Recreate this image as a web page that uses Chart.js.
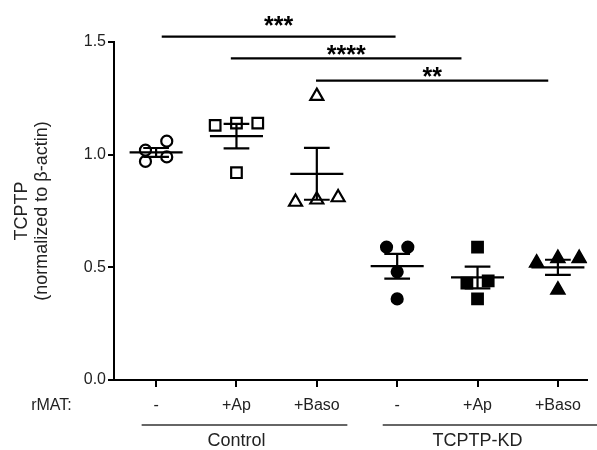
<!DOCTYPE html>
<html>
<head>
<meta charset="utf-8">
<script src="https://cdn.jsdelivr.net/npm/chart.js@4.4.1/dist/chart.umd.min.js"></script>
<style>
  html, body { margin: 0; padding: 0; background: #fff; }
</style>
</head>
<body>
<canvas id="myChart" width="597" height="450"></canvas>
<script>
// data
const conditions = ["-", "+Ap", "+Baso", "-", "+Ap", "+Baso"];
const groupNames = ["Control", "TCPTP-KD"];
const groupFrom = [-0.18, 2.82];
const groupTo = [2.38, 5.6];
const groupCenter = [1, 4];

const ctrlNone = [0.97, 1.02, 1.06, 0.99];
const ctrlAp = [1.13, 1.14, 1.14, 0.92];
const ctrlBaso = [1.26, 0.79, 0.81, 0.80];
const kdNone = [0.59, 0.59, 0.48, 0.36];
const kdAp = [0.59, 0.44, 0.43, 0.36];
const kdBaso = [0.54, 0.54, 0.52, 0.40];

const yTicks = [0, 0.5, 1.0, 1.5];

const sigLabels = ["***", "****", "**"];
const sigFrom = [0.07, 0.93, 1.99];
const sigTo = [2.98, 3.8, 4.88];
const sigLevel = [1.524, 1.427, 1.329];
const sigTextLevel = [1.59, 1.458, 1.364];

const FONT = "'Liberation Sans', Arial, Helvetica, sans-serif";
const TXT = "#222";

const series = [ctrlNone, ctrlAp, ctrlBaso, kdNone, kdAp, kdBaso];
const styles = ["circle", "rect", "triangle", "circle", "rect", "triangle"];
const radii = [5.5, 7.5, 7.5, 5.5, 7.5, 7.5];

// Prism-like scatter: values that fall in the same row get spread sideways
function swarm(values, center) {
    const ROW = 0.05, STEP = 0.265;
    const order = values.map((v, i) => i).sort((a, b) => values[b] - values[a]);
    const rows = [];
    order.forEach(i => {
        const last = rows[rows.length - 1];
        if (last && values[last[0]] - values[i] <= ROW) last.push(i);
        else rows.push([i]);
    });
    const out = new Array(values.length);
    rows.forEach(r => {
        r.sort((a, b) => values[a] - values[b]);
        r.forEach((idx, k) => {
            out[idx] = { x: center + (k - (r.length - 1) / 2) * STEP, y: values[idx] };
        });
    });
    return out;
}

function mean(a) { return a.reduce((s, v) => s + v, 0) / a.length; }
function sem(a) {
    const m = mean(a);
    const sd = Math.sqrt(a.reduce((s, v) => s + (v - m) * (v - m), 0) / (a.length - 1));
    return sd / Math.sqrt(a.length);
}

const datasets = series.map((vals, i) => ({
    label: conditions[i],
    data: swarm(vals, i),
    pointStyle: styles[i],
    pointRadius: radii[i],
    pointHoverRadius: radii[i],
    backgroundColor: i < 3 ? "#fff" : "#000",
    borderColor: "#000",
    pointBorderWidth: 2.2
}));

const annotations = {
    id: "annotations",
    afterDatasetsDraw(chart) {
        const ctx = chart.ctx, x = chart.scales.x, y = chart.scales.y;
        ctx.save();
        ctx.strokeStyle = "#000";
        ctx.lineWidth = 2.2;
        series.forEach((vals, i) => {
            const m = mean(vals), e = sem(vals);
            const ym = y.getPixelForValue(m);
            const yt = y.getPixelForValue(m + e);
            const yb = y.getPixelForValue(m - e);
            ctx.beginPath();
            ctx.moveTo(x.getPixelForValue(i - 0.33), ym);
            ctx.lineTo(x.getPixelForValue(i + 0.33), ym);
            ctx.moveTo(x.getPixelForValue(i), yt);
            ctx.lineTo(x.getPixelForValue(i), yb);
            ctx.moveTo(x.getPixelForValue(i - 0.16), yt);
            ctx.lineTo(x.getPixelForValue(i + 0.16), yt);
            ctx.moveTo(x.getPixelForValue(i - 0.16), yb);
            ctx.lineTo(x.getPixelForValue(i + 0.16), yb);
            ctx.stroke();
        });
        ctx.restore();
    },
    afterDraw(chart) {
        const ctx = chart.ctx, x = chart.scales.x, y = chart.scales.y;
        ctx.save();
        ctx.strokeStyle = "#000";
        ctx.fillStyle = "#000";
        ctx.lineWidth = 2.2;
        // significance bars
        sigLabels.forEach((lab, i) => {
            const py = y.getPixelForValue(sigLevel[i]);
            ctx.beginPath();
            ctx.moveTo(x.getPixelForValue(sigFrom[i]), py);
            ctx.lineTo(x.getPixelForValue(sigTo[i]), py);
            ctx.stroke();
            ctx.font = "bold 25px " + FONT;
            ctx.textAlign = "center";
            ctx.textBaseline = "middle";
            ctx.fillText(lab, x.getPixelForValue((sigFrom[i] + sigTo[i]) / 2), y.getPixelForValue(sigTextLevel[i]) + 5);
        });
        // group lines and names
        ctx.lineWidth = 1.5;
        ctx.strokeStyle = "#333";
        ctx.fillStyle = TXT;
        ctx.font = "18px " + FONT;
        groupNames.forEach((g, i) => {
            ctx.beginPath();
            ctx.moveTo(x.getPixelForValue(groupFrom[i]), 425);
            ctx.lineTo(x.getPixelForValue(groupTo[i]), 425);
            ctx.stroke();
            ctx.textAlign = "center";
            ctx.textBaseline = "middle";
            ctx.fillText(g, x.getPixelForValue(groupCenter[i]), 441);
        });
        ctx.font = "16px " + FONT;
        ctx.textAlign = "right";
        ctx.fillText("rMAT:", x.getPixelForValue(-1.05), 406);
        ctx.restore();
    }
};

new Chart(document.getElementById("myChart"), {
    type: "scatter",
    data: { datasets: datasets },
    options: {
        responsive: false,
        animation: false,
        layout: { padding: { top: 42, right: 0, left: 0, bottom: 0 } },
        plugins: { legend: { display: false }, tooltip: { enabled: false } },
        scales: {
            x: {
                type: "linear",
                min: -0.524,
                max: 5.366,
                afterBuildTicks: axis => { axis.ticks = conditions.map((c, i) => ({ value: i })); },
                afterFit: axis => { axis.height = 70; },
                ticks: {
                    callback: (v) => conditions[v],
                    color: TXT,
                    font: { family: FONT, size: 16 },
                    padding: 9,
                    autoSkip: false,
                    maxRotation: 0
                },
                grid: { display: true, drawOnChartArea: false, drawTicks: true, tickLength: 7, color: "#000", lineWidth: 2 },
                border: { display: true, color: "#000", width: 2 }
            },
            y: {
                min: 0,
                max: 1.5,
                afterBuildTicks: axis => { axis.ticks = yTicks.map(v => ({ value: v })); },
                afterFit: axis => { axis.width = 114; },
                ticks: {
                    callback: v => v.toFixed(1),
                    color: TXT,
                    font: { family: FONT, size: 16 },
                    padding: 2
                },
                grid: { display: true, drawOnChartArea: false, drawTicks: true, tickLength: 6, color: "#000", lineWidth: 2 },
                border: { display: true, color: "#000", width: 2 },
                title: {
                    display: true,
                    text: ["TCPTP", "(normalized to \u03b2-actin)"],
                    color: TXT,
                    font: { family: FONT, size: 18, lineHeight: 1.12 },
                    padding: { top: 12, bottom: 0 }
                }
            }
        }
    },
    plugins: [annotations]
});
</script>
</body>
</html>
